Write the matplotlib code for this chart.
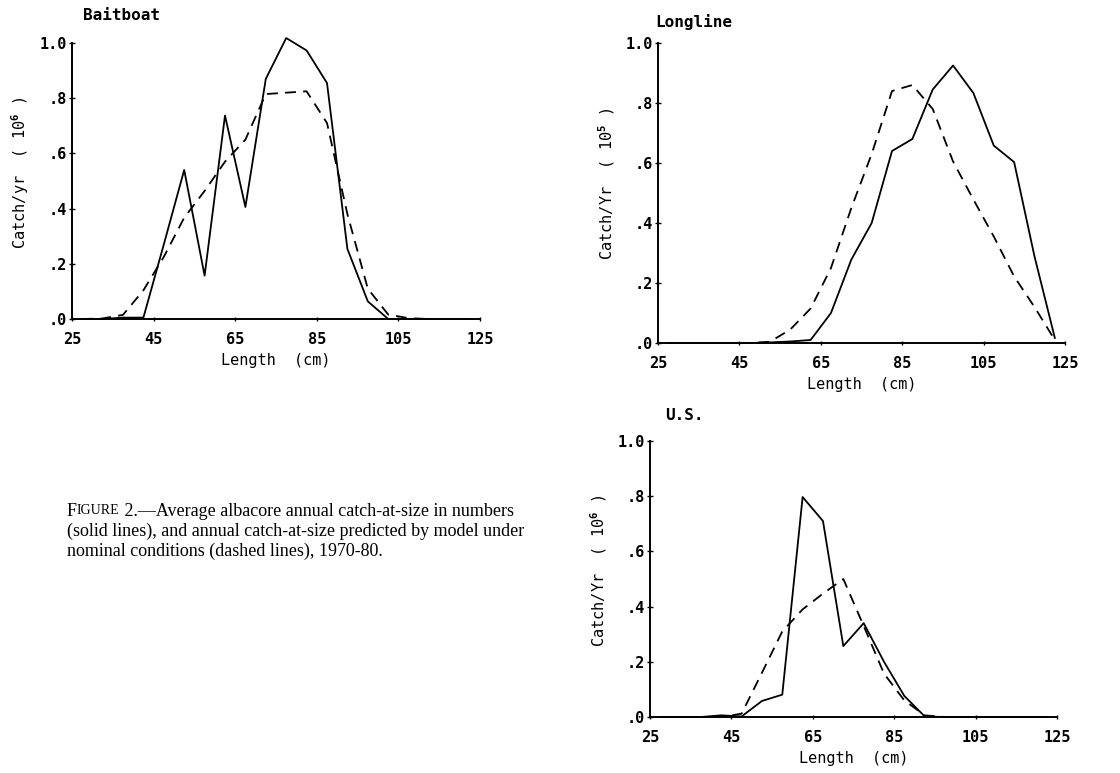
import numpy as np
import matplotlib.pyplot as plt
from matplotlib.ticker import FixedLocator, FuncFormatter

plt.rcParams['font.family'] = 'DejaVu Sans Mono'
plt.rcParams['font.weight'] = 'bold'
plt.rcParams['mathtext.fontset'] = 'custom'
plt.rcParams['mathtext.rm'] = 'DejaVu Sans Mono:bold'
plt.rcParams['mathtext.default'] = 'rm'

# length class midpoints (cm)
length = np.arange(27.5, 125, 5)

# Baitboat (10^6 fish)
bait_obs = [0, 0, 0.005, 0.005, 0.27, 0.54, 0.157, 0.737, 0.406, 0.87,
            1.018, 0.973, 0.855, 0.254, 0.064, 0.0, 0, 0, 0, 0]
bait_pred = [0, 0.002, 0.015, 0.104, 0.225, 0.367, 0.464, 0.57, 0.65, 0.815,
             0.82, 0.825, 0.71, 0.38, 0.11, 0.016, 0.003, 0, 0, 0]

# Longline (10^5 fish)
long_obs = [0, 0, 0, 0, 0, 0.002, 0.005, 0.01, 0.10, 0.278,
            0.40, 0.64, 0.68, 0.845, 0.925, 0.833, 0.658, 0.603, 0.289, 0.017]
long_pred = [0, 0, 0, 0, 0, 0.004, 0.045, 0.115, 0.25, 0.45,
             0.63, 0.84, 0.86, 0.78, 0.605, 0.478, 0.355, 0.222, 0.12, 0.01]

# U.S. (10^6 fish)
us_obs = [0, 0, 0, 0.006, 0.002, 0.058, 0.081, 0.797, 0.71, 0.257,
          0.34, 0.2, 0.076, 0.002, 0, 0, 0, 0, 0, 0]
us_pred = [0, 0, 0, 0, 0.012, 0.16, 0.31, 0.39, 0.447, 0.50,
           0.33, 0.157, 0.06, 0.006, 0, 0, 0, 0, 0, 0]

xticks = [25, 45, 65, 85, 105, 125]
yticks = [0, 0.2, 0.4, 0.6, 0.8, 1.0]

W, H = 1120, 773
fig = plt.figure(figsize=(W / 100, H / 100), dpi=100)


def panel(x25, x125, y0, y1, obs, pred, title, tpos, ylab):
    # axes placed from pixel positions of x=25, x=125, y=0, y=1.0
    top = 1.06
    ax = fig.add_axes([x25 / W, 1 - y0 / H, (x125 - x25) / W, (y0 - y1) * top / H])
    ax.set_xlim(25, 125)
    ax.set_ylim(0, top)
    ax.plot(length, obs, color='black', lw=1.3, clip_on=False)
    ax.plot(length, pred, color='black', lw=1.3, ls=(0, (6, 4)), clip_on=False)
    for s in ['top', 'right']:
        ax.spines[s].set_visible(False)
    ax.spines['left'].set_bounds(0, 1.0)
    ax.spines['left'].set_linewidth(1.4)
    ax.spines['bottom'].set_linewidth(1.4)
    ax.xaxis.set_major_locator(FixedLocator(xticks))
    ax.yaxis.set_major_locator(FixedLocator(yticks))
    ax.yaxis.set_major_formatter(FuncFormatter(lambda v, p: '1.0' if v >= 1 else ('%.1f' % v)[1:]))
    ax.tick_params(axis='y', direction='inout', length=5, width=1, pad=1, labelsize=11)
    ax.tick_params(axis='x', direction='inout', length=3, width=1, pad=8, labelsize=11)
    ax.set_xlabel('Length  (cm)', fontsize=11, labelpad=4)
    ax.set_ylabel(ylab, fontsize=11, labelpad=6)
    fig.text(tpos[0] / W, 1 - tpos[1] / H, title, fontsize=11.5, va='center', ha='left')
    return ax


panel(72, 480, 319, 43, bait_obs, bait_pred, 'Baitboat', (83, 16), 'Catch/yr  ( 10$^6$ )')
panel(658, 1065, 343, 43, long_obs, long_pred, 'Longline', (655, 22), 'Catch/Yr  ( 10$^5$ )')
panel(650, 1057, 717, 441, us_obs, us_pred, 'U.S.', (665, 415), 'Catch/Yr  ( 10$^6$ )')

# figure caption
cap = dict(family='Liberation Serif', weight='normal', va='center')
t1 = fig.text(67 / W, 1 - 511 / H, 'F', fontsize=13, **cap)
t2 = fig.text(0, 0, 'IGURE', fontsize=10, **cap)
fig.canvas.draw()
r = fig.canvas.get_renderer()
bb = t1.get_window_extent(r)
t2.set_position((bb.x1 / W, 1 - 511 / H))
fig.canvas.draw()
bb2 = t2.get_window_extent(r)
fig.text(bb2.x1 / W, 1 - 511 / H, ' 2.\u2014Average albacore annual catch-at-size in numbers',
         fontsize=13, **cap)
fig.text(67 / W, 1 - 531 / H, '(solid lines), and annual catch-at-size predicted by model under',
         fontsize=13, **cap)
fig.text(67 / W, 1 - 551 / H, 'nominal conditions (dashed lines), 1970-80.', fontsize=13, **cap)

fig.savefig('out.png', dpi=100)
